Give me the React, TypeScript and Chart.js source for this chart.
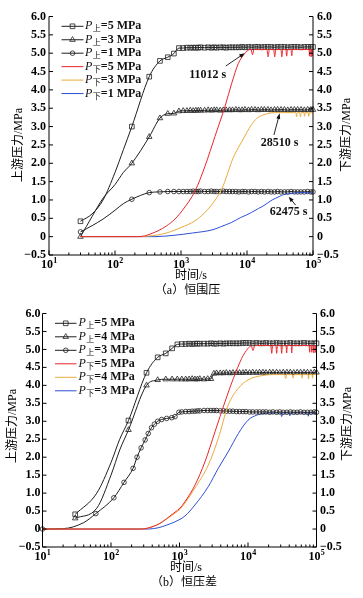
import React, { useEffect, useRef } from 'react';
import { Chart, registerables } from 'chart.js';

Chart.register(...registerables);

const SERIF = '"Liberation Serif", "Noto Sans CJK SC", serif';
const INK = '#1e1e1e';
const RED = '#e8262b';
const ORANGE = '#e9aa3c';
const BLUE = '#2c4fd4';

const X_MIN = 10;
const X_MAX = 100000;
const Y_MIN = -0.5;
const Y_MAX = 6;
const Y_STEP = 0.5;
const X_LABEL_EXPONENTS = [1, 2, 3, 4, 5];
const X_MINOR_MANTISSAS = [2, 3, 4, 5, 6, 7, 8, 9];

// sampling times shared by the plateau part of the upstream curves (s)
const TAIL_TIMES = [1080, 1230, 1380, 1530, 1680, 1830, 1980, 2280, 2580, 2880,
  3180, 3480, 3930, 4380, 4830, 5430, 6030, 6780, 7530, 8430,
  9330, 10530, 11730, 13230, 14730, 16530, 18330, 20730, 23130, 26130,
  29130, 32730, 36930, 41430, 46530, 52230, 58530, 65730, 73830, 82830,
  92730, 99930];

// ---------------- (a) 恒围压 ----------------
const A_UP_HEAD_TIMES = [30, 45, 66, 100, 134, 180, 330, 480, 630, 780, 930];
const A_LINE_ONLY_TIMES = [45, 66, 100, 134];
const A_UP5_HEAD = [0.42, 0.62, 1.0, 1.75, 2.37, 3.0, 4.36, 4.79, 4.89, 4.99, 5.14];
const A_UP3_HEAD = [0.0, 0.55, 1.05, 1.42, 1.75, 2.0, 2.72, 3.23, 3.35, 3.36, 3.42];
const A_UP1_HEAD = [0.13, 0.3, 0.48, 0.72, 0.9, 1.02, 1.2, 1.22, 1.23, 1.23, 1.23];
const A_UP5_TAIL = [5.14, 5.15, 5.15, 5.15, 5.15, 5.15, 5.16, 5.15, 5.16, 5.15,
  5.16, 5.15, 5.16, 5.16, 5.15, 5.16, 5.16, 5.16, 5.16, 5.17,
  5.16, 5.17, 5.16, 5.17, 5.17, 5.16, 5.17, 5.17, 5.17, 5.16,
  5.17, 5.17, 5.17, 5.16, 5.17, 5.17, 5.17, 5.16, 5.17, 5.17,
  5.17, 5.17];
const A_UP3_TAIL = [3.43, 3.43, 3.44, 3.43, 3.44, 3.44, 3.44, 3.44, 3.45, 3.44,
  3.45, 3.45, 3.44, 3.45, 3.45, 3.45, 3.45, 3.46, 3.45, 3.45,
  3.46, 3.45, 3.46, 3.46, 3.45, 3.46, 3.46, 3.46, 3.45, 3.46,
  3.46, 3.46, 3.46, 3.45, 3.46, 3.46, 3.46, 3.46, 3.45, 3.46,
  3.46, 3.46];
const A_UP1_TAIL = [1.23, 1.23, 1.23, 1.24, 1.23, 1.23, 1.24, 1.23, 1.23, 1.24,
  1.23, 1.23, 1.23, 1.24, 1.23, 1.23, 1.23, 1.23, 1.22, 1.23,
  1.23, 1.22, 1.23, 1.23, 1.22, 1.23, 1.22, 1.23, 1.22, 1.22,
  1.23, 1.22, 1.22, 1.22, 1.23, 1.22, 1.22, 1.22, 1.22, 1.23,
  1.22, 1.22];

const A_DN5_TIMES = [30, 220, 280, 340, 450, 600, 811, 1085, 1630, 2310,
  3270, 4640, 5870, 7390, 9330, 10800, 11500, 12100, 12800, 14000,
  20000, 20900, 21800, 25400, 26300, 27300, 32700, 33700, 34800, 38800,
  39900, 41100, 46400, 47700, 49000, 60000, 87000, 88500, 90000, 92000,
  93500, 95000, 97000, 98500, 100000];
const A_DN5 = [0, 0, 0.02, 0.07, 0.16, 0.29, 0.48, 0.75, 1.24, 1.92,
  2.73, 3.55, 4.18, 4.72, 5.0, 5.1, 5.11, 4.96, 5.1, 5.1,
  5.1, 4.9, 5.1, 5.1, 4.9, 5.1, 5.1, 4.9, 5.1, 5.1,
  4.92, 5.1, 5.1, 4.93, 5.1, 5.1, 5.1, 4.92, 5.1, 5.1,
  4.9, 5.1, 4.92, 5.1, 5.1];
const A_DN3_TIMES = [30, 250, 300, 450, 600, 811, 1000, 1630, 2570, 3300,
  4130, 5000, 5870, 7000, 8300, 10000, 11700, 14000, 16600, 20000,
  26300, 35000, 50000, 55000, 56500, 58000, 63000, 64500, 66000, 73000,
  74500, 76000, 85000, 86500, 88000, 100000];
const A_DN3 = [0, 0, 0.01, 0.05, 0.1, 0.18, 0.25, 0.43, 0.75, 1.0,
  1.29, 1.68, 2.05, 2.35, 2.58, 2.85, 3.05, 3.22, 3.3, 3.35,
  3.38, 3.38, 3.38, 3.38, 3.27, 3.38, 3.38, 3.27, 3.38, 3.38,
  3.28, 3.38, 3.38, 3.28, 3.38, 3.37];
const A_DN1_TIMES = [30, 400, 811, 1500, 3060, 4000, 5870, 8000, 9780, 11700,
  15000, 17400, 24000, 31500, 35000, 44700, 52000, 63000, 75000, 100000];
const A_DN1 = [0, 0, 0.04, 0.1, 0.19, 0.27, 0.39, 0.52, 0.59, 0.66,
  0.77, 0.83, 1.0, 1.1, 1.14, 1.17, 1.19, 1.2, 1.2, 1.19];

const A_LEGEND_SUBS = ['上', '上', '上', '下', '下', '下'];
const A_LEGEND_VALUES = ['5', '3', '1', '5', '3', '1'];
const A_NOTE_TEXTS = ['11012 s', '28510 s', '62475 s'];
const A_NOTE_TEXT_AT = [[2541, 4.4], [31250, 2.55], [42760, 0.68]];
const A_NOTE_TAIL_AT = [[4765, 4.65], [25580, 2.77], [54580, 0.86]];
const A_NOTE_HEAD_AT = [[9226, 5.0], [31250, 3.36], [42760, 1.09]];

// ---------------- (b) 恒压差 ----------------
const B_UP_HEAD_TIMES = [30, 62, 100, 134, 180, 330, 480, 630, 780, 930];
const B_CIR_HEAD_TIMES = [10, 20, 40, 60, 110, 155, 210, 240, 275, 315,
  350, 390, 430, 480, 550, 650, 770, 860, 980];
const B_LINE_ONLY_TIMES = [20, 40, 62, 100, 134];
const B_UP5_HEAD = [0.41, 1.0, 1.85, 2.5, 3.02, 4.35, 4.78, 4.89, 5.03, 5.14];
const B_UP4_HEAD = [0.3, 0.58, 1.5, 2.2, 2.76, 4.0, 4.15, 4.17, 4.17, 4.17];
const B_UP3_HEAD = [0, 0.01, 0.18, 0.43, 0.87, 1.3, 1.69, 2.0, 2.26, 2.48,
  2.66, 2.82, 2.92, 3.0, 3.05, 3.08, 3.1, 3.13, 3.25];
const B_UP5_TAIL = [5.15, 5.15, 5.16, 5.15, 5.16, 5.16, 5.16, 5.16, 5.16, 5.17,
  5.16, 5.16, 5.17, 5.16, 5.17, 5.17, 5.17, 5.17, 5.17, 5.18,
  5.18, 5.18, 5.17, 5.18, 5.17, 5.17, 5.18, 5.17, 5.17, 5.18,
  5.17, 5.17, 5.17, 5.18, 5.17, 5.17, 5.17, 5.18, 5.17, 5.17,
  5.17, 5.17];
const B_UP4_TAIL = [4.17, 4.17, 4.17, 4.18, 4.17, 4.17, 4.18, 4.17, 4.18, 4.18,
  4.33, 4.34, 4.34, 4.34, 4.35, 4.34, 4.35, 4.35, 4.35, 4.35,
  4.36, 4.35, 4.36, 4.35, 4.36, 4.36, 4.35, 4.36, 4.36, 4.36,
  4.35, 4.36, 4.36, 4.36, 4.35, 4.36, 4.36, 4.36, 4.36, 4.35,
  4.36, 4.36];
const B_UP3_TAIL = [3.26, 3.27, 3.27, 3.28, 3.28, 3.29, 3.29, 3.3, 3.3, 3.3,
  3.3, 3.3, 3.29, 3.29, 3.28, 3.28, 3.28, 3.27, 3.27, 3.27,
  3.27, 3.26, 3.26, 3.26, 3.26, 3.26, 3.26, 3.25, 3.26, 3.25,
  3.26, 3.25, 3.25, 3.26, 3.25, 3.25, 3.26, 3.25, 3.25, 3.25,
  3.26, 3.25];

const B_DN5_TIMES = [10, 280, 350, 500, 650, 859, 1016, 1200, 1680, 2350,
  3300, 4610, 6110, 8090, 10000, 11200, 11800, 12500, 13500, 16000,
  21500, 22200, 22900, 25500, 26200, 26900, 30200, 31000, 31800, 35900,
  36700, 37500, 42600, 43500, 44400, 60000, 78000, 79500, 81000, 84000,
  85500, 87000, 90000, 91500, 93000, 95000, 96500, 98000, 100000];
const B_DN5 = [0, 0, 0.03, 0.14, 0.29, 0.47, 0.58, 0.76, 1.22, 1.87,
  2.71, 3.54, 4.19, 4.75, 5.03, 5.1, 4.97, 5.1, 5.11, 5.11,
  5.11, 4.89, 5.11, 5.11, 4.89, 5.11, 5.11, 4.89, 5.11, 5.11,
  4.9, 5.11, 5.11, 4.9, 5.11, 5.11, 5.11, 4.92, 5.11, 5.11,
  4.92, 5.11, 5.11, 4.9, 5.11, 5.11, 4.92, 5.11, 5.11];
const B_DN4_TIMES = [10, 280, 350, 500, 650, 859, 1016, 1200, 1680, 2630,
  3680, 5140, 7240, 10000, 15800, 24600, 34000, 35500, 37000, 44000,
  45500, 47000, 60000, 61500, 63000, 75000, 76500, 78000, 86000, 87500,
  89000, 100000];
const B_DN4 = [0, 0, 0.03, 0.14, 0.28, 0.44, 0.55, 0.72, 1.14, 1.78,
  2.52, 3.45, 3.92, 4.15, 4.27, 4.3, 4.3, 4.19, 4.3, 4.3,
  4.2, 4.3, 4.3, 4.2, 4.3, 4.3, 4.18, 4.3, 4.3, 4.2,
  4.3, 4.3];
const B_DN3_TIMES = [10, 350, 500, 650, 859, 1016, 1200, 1680, 2630, 3680,
  5140, 7240, 10000, 13400, 17800, 25000, 30000, 31000, 32000, 39800,
  40800, 41800, 60000, 75000, 76000, 77000, 100000];
const B_DN3 = [0, 0, 0.04, 0.11, 0.2, 0.27, 0.36, 0.67, 1.18, 1.69,
  2.15, 2.66, 3.03, 3.17, 3.22, 3.23, 3.23, 3.13, 3.23, 3.23,
  3.15, 3.23, 3.23, 3.23, 3.14, 3.23, 3.23];

const B_LEGEND_SUBS = ['上', '上', '上', '下', '下', '下'];
const B_LEGEND_VALUES = ['5', '4', '3', '5', '4', '3'];

const UP_MARKERS = ['rect', 'triangle', 'circle'];
const MARKER_RADIUS: Record<string, number> = { rect: 3.3, triangle: 3.2, circle: 2.3 };

function pts(times: number[], values: number[]) {
  return times.map((t, i) => ({ x: t, y: values[i] }));
}

function upDataset(times: number[], values: number[], marker: string, lineOnly: number[]) {
  const r = MARKER_RADIUS[marker];
  return {
    data: pts(times, values),
    borderColor: INK,
    borderWidth: 1,
    pointStyle: marker,
    pointRadius: (c: any) => (c.raw && lineOnly.includes(c.raw.x) ? 0 : r),
    pointBorderColor: INK,
    pointBackgroundColor: 'rgba(0,0,0,0)',
    pointBorderWidth: 0.8,
    cubicInterpolationMode: 'monotone',
    clip: false,
    xAxisID: 'x',
    yAxisID: 'y',
  };
}

function downDataset(times: number[], values: number[], color: string) {
  return {
    data: pts(times, values),
    borderColor: color,
    borderWidth: 1,
    pointRadius: 0,
    cubicInterpolationMode: 'monotone',
    clip: false,
    xAxisID: 'x',
    yAxisID: 'y',
  };
}

function drawMarker(ctx: CanvasRenderingContext2D, style: string, x: number, y: number) {
  const r = MARKER_RADIUS[style];
  ctx.beginPath();
  if (style === 'rect') {
    const s = r * Math.SQRT1_2;
    ctx.rect(x - s, y - s, 2 * s, 2 * s);
  } else if (style === 'triangle') {
    let a = 0;
    ctx.moveTo(x + Math.sin(a) * r, y - Math.cos(a) * r);
    a += (2 * Math.PI) / 3;
    ctx.lineTo(x + Math.sin(a) * r, y - Math.cos(a) * r);
    a += (2 * Math.PI) / 3;
    ctx.lineTo(x + Math.sin(a) * r, y - Math.cos(a) * r);
    ctx.closePath();
  } else {
    ctx.arc(x, y, r, 0, Math.PI * 2);
  }
  ctx.stroke();
}

type Spec = {
  height: number;
  top: number;
  leftW: number;
  rightW: number;
  xH: number;
  padL: number;
  padR: number;
  datasets: any[];
  legend: { x0: number; x1: number; textX: number; y0: number; step: number; subs: string[]; values: string[] };
  leftTitle: number[];
  rightTitle: number[];
  xTitle: number[];
  caption: number[];
  captionText: string;
  notes: { texts: string[]; at: number[][]; tail: number[][]; head: number[][] } | null;
};

const LEGEND_COLORS = [INK, INK, INK, RED, ORANGE, BLUE];
const LEGEND_MARKERS = ['rect', 'triangle', 'circle', '', '', ''];

function decorPlugin(spec: Spec) {
  return {
    id: 'decor',
    afterDraw(chart: any) {
      const ctx: CanvasRenderingContext2D = chart.ctx;
      const { left, right, top, bottom } = chart.chartArea;
      const xs = chart.scales.x;
      const ys = chart.scales.y;
      ctx.save();
      // axis lines
      ctx.strokeStyle = '#000';
      ctx.lineWidth = 1;
      ctx.beginPath();
      ctx.moveTo(left, top);
      ctx.lineTo(left, bottom);
      ctx.lineTo(right, bottom);
      ctx.lineTo(right, top);
      ctx.stroke();
      // inner y ticks
      ctx.beginPath();
      ys.ticks.forEach((t: any) => {
        const y = ys.getPixelForValue(t.value);
        ctx.moveTo(left, y);
        ctx.lineTo(left + 4, y);
        ctx.moveTo(right, y);
        ctx.lineTo(right - 4, y);
      });
      // inner x ticks (major + minor)
      X_LABEL_EXPONENTS.forEach((e) => {
        const x = xs.getPixelForValue(Math.pow(10, e));
        ctx.moveTo(x, bottom);
        ctx.lineTo(x, bottom - 4.5);
        if (e < 5) {
          X_MINOR_MANTISSAS.forEach((m) => {
            const xm = xs.getPixelForValue(m * Math.pow(10, e));
            ctx.moveTo(xm, bottom);
            ctx.lineTo(xm, bottom - 2.5);
          });
        }
      });
      ctx.stroke();

      // x tick labels 10^n
      ctx.fillStyle = '#000';
      ctx.textBaseline = 'alphabetic';
      ctx.textAlign = 'left';
      X_LABEL_EXPONENTS.forEach((e) => {
        const x = xs.getPixelForValue(Math.pow(10, e));
        ctx.font = `bold 12px ${SERIF}`;
        const wb = ctx.measureText('10').width;
        ctx.font = `bold 8px ${SERIF}`;
        const ws = ctx.measureText(String(e)).width;
        const x0 = x - (wb + ws) / 2;
        ctx.font = `bold 12px ${SERIF}`;
        ctx.fillText('10', x0, bottom + 13);
        ctx.font = `bold 8px ${SERIF}`;
        ctx.fillText(String(e), x0 + wb + 0.3, bottom + 7.5);
      });

      // titles
      ctx.font = `12px ${SERIF}`;
      ctx.textAlign = 'center';
      ctx.textBaseline = 'middle';
      ctx.fillText('时间/s', spec.xTitle[0], spec.xTitle[1]);
      ctx.fillText(spec.captionText, spec.caption[0], spec.caption[1]);
      const side = (txt: string, p: number[]) => {
        ctx.save();
        ctx.translate(p[0], p[1]);
        ctx.rotate(-Math.PI / 2);
        ctx.fillText(txt, 0, 0);
        ctx.restore();
      };
      side('上游压力/MPa', spec.leftTitle);
      side('下游压力/MPa', spec.rightTitle);

      // legend
      const L = spec.legend;
      L.subs.forEach((sub, i) => {
        const y = L.y0 + i * L.step;
        ctx.strokeStyle = LEGEND_COLORS[i];
        ctx.lineWidth = 1;
        ctx.beginPath();
        ctx.moveTo(L.x0, y);
        ctx.lineTo(L.x1, y);
        ctx.stroke();
        if (LEGEND_MARKERS[i]) {
          ctx.lineWidth = 0.8;
          drawMarker(ctx, LEGEND_MARKERS[i], (L.x0 + L.x1) / 2, y);
        }
        let x = L.textX;
        ctx.fillStyle = '#111';
        ctx.textAlign = 'left';
        ctx.textBaseline = 'middle';
        ctx.font = `italic 12px ${SERIF}`;
        ctx.fillText('P', x, y);
        x += ctx.measureText('P').width + 0.5;
        ctx.font = `8px ${SERIF}`;
        ctx.fillText(sub, x, y + 3);
        x += ctx.measureText(sub).width;
        ctx.font = `bold 12px ${SERIF}`;
        ctx.fillText(`=${L.values[i]} MPa`, x, y);
      });

      // annotations
      if (spec.notes) {
        const N = spec.notes;
        N.texts.forEach((txt, i) => {
          const tx = xs.getPixelForValue(N.at[i][0]);
          const ty = ys.getPixelForValue(N.at[i][1]);
          ctx.font = `bold 12px ${SERIF}`;
          ctx.fillStyle = '#111';
          ctx.textAlign = 'center';
          ctx.textBaseline = 'middle';
          ctx.fillText(txt, tx, ty);
          const fx = xs.getPixelForValue(N.tail[i][0]);
          const fy = ys.getPixelForValue(N.tail[i][1]);
          const hx = xs.getPixelForValue(N.head[i][0]);
          const hy = ys.getPixelForValue(N.head[i][1]);
          const ang = Math.atan2(hy - fy, hx - fx);
          ctx.strokeStyle = '#111';
          ctx.lineWidth = 0.9;
          ctx.beginPath();
          ctx.moveTo(fx, fy);
          ctx.lineTo(hx - Math.cos(ang) * 3, hy - Math.sin(ang) * 3);
          ctx.stroke();
          ctx.beginPath();
          ctx.moveTo(hx, hy);
          ctx.lineTo(hx - Math.cos(ang) * 5.5 + Math.sin(ang) * 2, hy - Math.sin(ang) * 5.5 - Math.cos(ang) * 2);
          ctx.lineTo(hx - Math.cos(ang) * 5.5 - Math.sin(ang) * 2, hy - Math.sin(ang) * 5.5 + Math.cos(ang) * 2);
          ctx.closePath();
          ctx.fill();
        });
      }
      ctx.restore();
    },
  };
}

function yTickLabel(v: any) {
  const n = Number(v);
  if (Math.abs(n) < 1e-9) return '0';
  if (n < 0) return '\u2212' + Math.abs(n).toFixed(1);
  return n.toFixed(1);
}

function buildChart(canvas: HTMLCanvasElement, spec: Spec) {
  const tickFont = { family: SERIF, size: 12, weight: 'bold' as const };
  return new Chart(canvas, {
    type: 'line',
    data: { datasets: spec.datasets },
    plugins: [decorPlugin(spec)],
    options: {
      responsive: false,
      animation: false,
      devicePixelRatio: 1,
      events: [],
      layout: { padding: { top: spec.top, left: 0, right: 0, bottom: 0 } },
      plugins: { legend: { display: false }, tooltip: { enabled: false }, title: { display: false } },
      scales: {
        x: {
          type: 'logarithmic',
          min: X_MIN,
          max: X_MAX,
          grid: { display: false, drawTicks: false },
          border: { display: false },
          ticks: { display: false },
          afterFit: (s: any) => {
            s.height = spec.xH;
          },
        },
        y: {
          type: 'linear',
          position: 'left',
          min: Y_MIN,
          max: Y_MAX,
          grid: { display: false, drawTicks: false },
          border: { display: false },
          ticks: { stepSize: Y_STEP, callback: yTickLabel, font: tickFont, color: '#000', padding: spec.padL },
          afterFit: (s: any) => {
            s.width = spec.leftW;
          },
        },
        y2: {
          type: 'linear',
          position: 'right',
          min: Y_MIN,
          max: Y_MAX,
          grid: { display: false, drawTicks: false },
          border: { display: false },
          ticks: { stepSize: Y_STEP, callback: yTickLabel, font: tickFont, color: '#000', padding: spec.padR },
          afterFit: (s: any) => {
            s.width = spec.rightW;
          },
        },
      },
    } as any,
  });
}

const SPEC_A: Spec = {
  height: 300,
  top: 16.5,
  leftW: 49,
  rightW: 50,
  xH: 45,
  padL: 3,
  padR: 4,
  datasets: [
    downDataset(A_DN5_TIMES, A_DN5, RED),
    downDataset(A_DN3_TIMES, A_DN3, ORANGE),
    downDataset(A_DN1_TIMES, A_DN1, BLUE),
    upDataset(A_UP_HEAD_TIMES.concat(TAIL_TIMES), A_UP5_HEAD.concat(A_UP5_TAIL), UP_MARKERS[0], A_LINE_ONLY_TIMES),
    upDataset(A_UP_HEAD_TIMES.concat(TAIL_TIMES), A_UP3_HEAD.concat(A_UP3_TAIL), UP_MARKERS[1], A_LINE_ONLY_TIMES),
    upDataset(A_UP_HEAD_TIMES.concat(TAIL_TIMES), A_UP1_HEAD.concat(A_UP1_TAIL), UP_MARKERS[2], A_LINE_ONLY_TIMES),
  ],
  legend: { x0: 61.5, x1: 83.5, textX: 85, y0: 26.3, step: 13.45, subs: A_LEGEND_SUBS, values: A_LEGEND_VALUES },
  leftTitle: [18.5, 145],
  rightTitle: [347, 135],
  xTitle: [191, 276],
  caption: [187.5, 290.5],
  captionText: '（a）恒围压',
  notes: { texts: A_NOTE_TEXTS, at: A_NOTE_TEXT_AT, tail: A_NOTE_TAIL_AT, head: A_NOTE_HEAD_AT },
};

const SPEC_B: Spec = {
  height: 298,
  top: 13.5,
  leftW: 42.5,
  rightW: 46.5,
  xH: 51,
  padL: 2,
  padR: 3.5,
  datasets: [
    downDataset(B_DN5_TIMES, B_DN5, RED),
    downDataset(B_DN4_TIMES, B_DN4, ORANGE),
    upDataset(B_UP_HEAD_TIMES.concat(TAIL_TIMES), B_UP5_HEAD.concat(B_UP5_TAIL), UP_MARKERS[0], B_LINE_ONLY_TIMES),
    upDataset(B_UP_HEAD_TIMES.concat(TAIL_TIMES), B_UP4_HEAD.concat(B_UP4_TAIL), UP_MARKERS[1], B_LINE_ONLY_TIMES),
    upDataset(B_CIR_HEAD_TIMES.concat(TAIL_TIMES), B_UP3_HEAD.concat(B_UP3_TAIL), UP_MARKERS[2], B_LINE_ONLY_TIMES),
    downDataset(B_DN3_TIMES, B_DN3, BLUE),
  ],
  legend: { x0: 55, x1: 76.5, textX: 78.5, y0: 23.3, step: 13.5, subs: B_LEGEND_SUBS, values: B_LEGEND_VALUES },
  leftTitle: [12.5, 126],
  rightTitle: [347.5, 124],
  xTitle: [186, 268],
  caption: [184, 283.3],
  captionText: '（b）恒压差',
  notes: null,
};

export default function App() {
  const refA = useRef<HTMLCanvasElement>(null);
  const refB = useRef<HTMLCanvasElement>(null);
  useEffect(() => {
    const a = buildChart(refA.current as HTMLCanvasElement, SPEC_A);
    const b = buildChart(refB.current as HTMLCanvasElement, SPEC_B);
    return () => {
      a.destroy();
      b.destroy();
    };
  }, []);
  return (
    <div style={{ position: 'absolute', left: 0, top: 0, width: 363, height: 598, background: '#fff' }}>
      <canvas ref={refA} width={363} height={SPEC_A.height} style={{ display: 'block', width: 363, height: SPEC_A.height }} />
      <canvas ref={refB} width={363} height={SPEC_B.height} style={{ display: 'block', width: 363, height: SPEC_B.height }} />
    </div>
  );
}
